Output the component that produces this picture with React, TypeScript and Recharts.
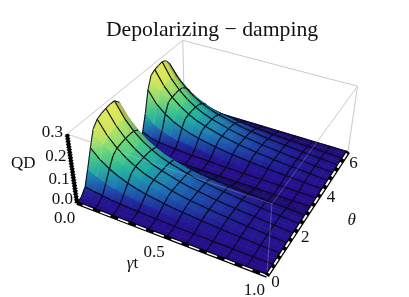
import React from 'react';
import { ScatterChart, Scatter, XAxis, YAxis } from 'recharts';

const WIDTH = 409;
const HEIGHT = 297;
const FONT = '"Liberation Serif", serif';

// gamma t samples (21), every second one carries a mesh line
const gammaT = [0, 0.05, 0.1, 0.15, 0.2, 0.25, 0.3, 0.35, 0.4, 0.45, 0.5, 0.55, 0.6, 0.65, 0.7, 0.75, 0.8, 0.85, 0.9, 0.95, 1];
// theta samples (29), every second one carries a mesh line
const theta = [0, 0.22, 0.45, 0.67, 0.9, 1.12, 1.35, 1.57, 1.8, 2.02, 2.24, 2.47, 2.69, 2.92, 3.14, 3.37, 3.59, 3.81, 4.04, 4.26, 4.49, 4.71, 4.94, 5.16, 5.39, 5.61, 5.83, 6.06, 6.28];

// QD x 1000, one row per theta, one column per gamma t
const qdThousandths = [
  [0, 0, 0, 0, 0, 0, 0, 0, 0, 0, 0, 0, 0, 0, 0, 0, 0, 0, 0, 0, 0],
  [8, 7, 5, 4, 3, 3, 2, 2, 2, 2, 1, 1, 1, 1, 1, 1, 1, 0, 0, 0, 0],
  [36, 28, 23, 18, 15, 12, 11, 9, 8, 7, 6, 5, 4, 4, 3, 3, 2, 2, 1, 1, 1],
  [101, 78, 63, 50, 41, 34, 29, 25, 21, 18, 15, 14, 12, 10, 9, 7, 6, 5, 4, 3, 2],
  [174, 135, 108, 87, 71, 59, 50, 43, 37, 31, 27, 24, 20, 17, 15, 12, 11, 9, 7, 5, 4],
  [238, 185, 148, 119, 98, 81, 69, 60, 50, 43, 37, 32, 27, 24, 20, 17, 14, 12, 9, 7, 5],
  [263, 205, 164, 132, 108, 89, 76, 66, 55, 47, 40, 36, 30, 26, 23, 19, 16, 13, 10, 8, 6],
  [272, 211, 169, 136, 112, 92, 79, 68, 57, 49, 42, 37, 31, 27, 23, 19, 16, 14, 11, 8, 6],
  [277, 216, 172, 139, 114, 94, 80, 69, 58, 50, 43, 38, 32, 28, 24, 20, 17, 14, 11, 8, 6],
  [280, 218, 174, 140, 115, 95, 81, 70, 59, 50, 43, 38, 32, 28, 24, 20, 17, 14, 11, 8, 6],
  [280, 217, 172, 139, 114, 94, 80, 69, 58, 49, 43, 37, 32, 28, 24, 20, 17, 14, 11, 8, 6],
  [258, 201, 160, 129, 106, 87, 75, 64, 54, 46, 40, 35, 29, 26, 22, 18, 16, 13, 10, 7, 6],
  [154, 120, 96, 77, 63, 52, 45, 39, 32, 28, 24, 21, 18, 15, 13, 11, 9, 8, 6, 4, 3],
  [50, 39, 31, 25, 21, 17, 15, 13, 11, 9, 8, 7, 6, 5, 4, 4, 3, 3, 2, 1, 1],
  [0, 0, 0, 0, 0, 0, 0, 0, 0, 0, 0, 0, 0, 0, 0, 0, 0, 0, 0, 0, 0],
  [11, 7, 5, 4, 3, 3, 2, 2, 2, 1, 1, 1, 1, 1, 1, 1, 0, 0, 0, 0, 0],
  [45, 28, 20, 15, 12, 10, 8, 7, 6, 5, 4, 4, 3, 3, 2, 2, 2, 1, 1, 1, 0],
  [118, 80, 60, 46, 37, 30, 25, 21, 18, 15, 13, 11, 9, 8, 7, 6, 5, 4, 3, 2, 2],
  [210, 155, 122, 97, 79, 65, 55, 47, 40, 34, 29, 25, 21, 18, 15, 13, 11, 9, 7, 5, 4],
  [260, 203, 162, 130, 107, 88, 75, 65, 55, 47, 40, 35, 30, 26, 22, 19, 16, 13, 10, 7, 6],
  [272, 212, 169, 136, 112, 92, 79, 68, 57, 49, 42, 37, 31, 27, 23, 19, 16, 14, 11, 8, 6],
  [277, 216, 172, 139, 114, 94, 80, 69, 58, 50, 43, 38, 32, 28, 24, 20, 17, 14, 11, 8, 6],
  [280, 218, 174, 140, 115, 95, 81, 70, 59, 50, 43, 38, 32, 28, 24, 20, 17, 14, 11, 8, 6],
  [272, 211, 169, 136, 112, 92, 79, 68, 57, 49, 42, 37, 31, 27, 23, 19, 16, 14, 11, 8, 6],
  [246, 192, 153, 123, 101, 84, 71, 62, 52, 44, 38, 33, 28, 25, 21, 18, 15, 12, 10, 7, 5],
  [204, 159, 127, 102, 84, 69, 59, 51, 43, 37, 31, 28, 23, 20, 18, 15, 12, 10, 8, 6, 4],
  [134, 105, 84, 67, 55, 46, 39, 34, 28, 24, 21, 18, 15, 13, 12, 10, 8, 7, 5, 4, 3],
  [56, 44, 35, 28, 23, 19, 16, 14, 12, 10, 9, 8, 6, 6, 5, 4, 3, 3, 2, 2, 1],
  [0, 0, 0, 0, 0, 0, 0, 0, 0, 0, 0, 0, 0, 0, 0, 0, 0, 0, 0, 0, 0],
];

const qdTicks = [0, 0.1, 0.2, 0.3];
const gammaTicks = [0, 0.5, 1];
const thetaTicks = [0, 2, 4, 6];

const THETA_MAX = 6.28;
const QD_MAX = 0.3;

// camera of the 3D box, fitted on the corners of the frame
const project = (g: number, t: number, q: number) => {
  const u = g;
  const v = t / THETA_MAX;
  const w = q / QD_MAX;
  const h = 1 - 0.1076 * u + 0.213 * v - 0.0705 * w;
  return {
    x: (77 + 161.2 * u + 146.5 * v - 14.7 * w) / h,
    y: (203 + 43.1 * u - 78.4 * v - 78.5 * w) / h,
    h,
  };
};

const palette: [number, number[]][] = [
  [0, [38, 14, 138]],
  [0.06, [34, 24, 146]],
  [0.13, [30, 66, 165]],
  [0.22, [28, 120, 182]],
  [0.37, [36, 178, 158]],
  [0.55, [96, 212, 126]],
  [0.75, [196, 228, 96]],
  [1, [236, 234, 88]],
];

const surfaceColor = (thousandths: number, shade: number) => {
  const t = Math.min(1, thousandths / 280);
  let k = 0;
  while (k < palette.length - 2 && t > palette[k + 1][0]) k++;
  const [t0, c0] = palette[k];
  const [t1, c1] = palette[k + 1];
  const f = (t - t0) / (t1 - t0);
  const rgb = c0.map((c, n) => Math.round((c + (c1[n] - c) * f) * shade));
  return `rgb(${rgb.join(',')})`;
};

const buildSurface = () => {
  const quads = [];
  for (let i = 0; i < theta.length - 1; i++) {
    for (let j = 0; j < gammaT.length - 1; j++) {
      const ids = [[i, j], [i, j + 1], [i + 1, j + 1], [i + 1, j]];
      const corners = ids.map(([a, b]) => project(gammaT[b], theta[a], qdThousandths[a][b] / 1000));
      const qs = ids.map(([a, b]) => qdThousandths[a][b]);
      const mean = (qs[0] + qs[1] + qs[2] + qs[3]) / 4;
      // faces turned away from the light, towards growing theta
      const drop = Math.max(0, (qs[0] + qs[1] - qs[2] - qs[3]) / 2);
      const shade = Math.max(0.5, 1 - drop * 0.008 - 0.25 * Math.min(1, drop / (mean + 3)));
      quads.push({
        corners,
        // colours at the middle of the four sides, blended by two gradients
        side: [(qs[0] + qs[1]) / 2, (qs[1] + qs[2]) / 2, (qs[2] + qs[3]) / 2, (qs[3] + qs[0]) / 2].map((q) => surfaceColor(q, shade)),
        fill: surfaceColor(mean, shade),
        depth: corners.reduce((s, c) => s + c.h, 0) / 4,
        // edges: 0 = row i, 1 = column j + 1, 2 = row i + 1, 3 = column j
        mesh: [i % 2 === 0, (j + 1) % 2 === 0, (i + 1) % 2 === 0, j % 2 === 0],
      });
    }
  }
  return quads.sort((a, b) => b.depth - a.depth);
};

const quads = buildSurface();
const surfacePoints = quads.flatMap((q) => q.corners.map((c) => ({ x: c.x, y: c.y })));

const mid = (a: any, b: any) => ({ x: (a.x + b.x) / 2, y: (a.y + b.y) / 2 });

const gradient = (id: string, a: any, b: any, from: string, to: string) => (
  <linearGradient id={id} gradientUnits="userSpaceOnUse" x1={a.x} y1={a.y} x2={b.x} y2={b.y}>
    <stop offset="0" stopColor={from} />
    <stop offset="1" stopColor={to} />
  </linearGradient>
);

const drawSurface = ({ points }: any) => (
  <g>
    {quads.map((q, n) => {
      const p = points.slice(n * 4, n * 4 + 4);
      if (p.length < 4) return null;
      const d = p.map((c: any) => `${c.x},${c.y}`).join(' ');
      const edges = q.mesh
        .map((on: boolean, e: number) => {
          const a = p[e];
          const b = p[(e + 1) % 4];
          return on ? `M${a.x},${a.y}L${b.x},${b.y}` : '';
        })
        .join('');
      return (
        <g key={n}>
          <defs>
            {gradient(`qt${n}`, mid(p[0], p[1]), mid(p[2], p[3]), q.side[0], q.side[2])}
            {gradient(`qg${n}`, mid(p[3], p[0]), mid(p[1], p[2]), q.side[3], q.side[1])}
          </defs>
          <polygon points={d} fill={`url(#qt${n})`} stroke={q.fill} strokeWidth={0.5} />
          <polygon points={d} fill={`url(#qg${n})`} fillOpacity={0.5} />
          {edges && <path d={edges} fill="none" stroke="#080818" strokeOpacity={0.9} strokeWidth={1.1} />}
        </g>
      );
    })}
  </g>
);

const edge = (a: number[], b: number[]) => [project(a[0], a[1], a[2]), project(b[0], b[1], b[2])].map((c) => ({ x: c.x, y: c.y }));

const O = [0, 0, 0];
const A = [1, 0, 0];
const B = [1, THETA_MAX, 0];
const C = [0, THETA_MAX, 0];
const O2 = [0, 0, QD_MAX];
const A2 = [1, 0, QD_MAX];
const B2 = [1, THETA_MAX, QD_MAX];
const C2 = [0, THETA_MAX, QD_MAX];

const backEdges = [edge(O2, C2), edge(C2, B2), edge(C2, C), edge(B2, B), edge(O2, A2), edge(A2, B2), edge(A2, A), edge(C, B)];
const frontEdges = [edge(O2, A2), edge(A2, B2), edge(A2, A)];

type Mark = { x: number; y: number; text: string; dx: number; dy: number; size?: number; anchor?: string; italic?: boolean };

const at = (p: number[]) => {
  const c = project(p[0], p[1], p[2]);
  return { x: c.x, y: c.y };
};

const marks: Mark[] = [
  { x: 212, y: 36, text: 'Depolarizing \u2212 damping', dx: 0, dy: 0, size: 21.7 },
  ...qdTicks.map((q) => ({ ...at([0, 0, q]), text: q.toFixed(1), dx: -4, dy: q === 0 ? 1 : 3, anchor: 'end' })),
  ...gammaTicks.map((g) => ({ ...at([g, 0, 0]), text: g.toFixed(1), dx: -12.5, dy: 19.5 })),
  ...thetaTicks.map((t) => ({ ...at([1, t, 0]), text: String(t), dx: 8.5, dy: 11.3 })),
  { ...at([0, 0, 0.15]), text: 'QD', dx: -49, dy: -2 },
  { ...at([0.5, 0, 0]), text: '\u03b3t', dx: -34, dy: 31 },
  { ...at([1, 3.14, 0]), text: '\u03b8', dx: 40, dy: 18, italic: true },
];

const drawMark = (props: any) => {
  const m: Mark = props.payload;
  if (m.text === '\u03b3t') {
    return (
      <text x={props.cx + m.dx} y={props.cy + m.dy} textAnchor="middle" fontFamily={FONT} fontSize={17} fill="#111">
        <tspan fontStyle="italic">{'\u03b3'}</tspan>t
      </text>
    );
  }
  return (
    <text
      x={props.cx + m.dx}
      y={props.cy + m.dy}
      textAnchor={m.anchor || 'middle'}
      fontFamily={FONT}
      fontSize={m.size || 17}
      fontStyle={m.italic ? 'italic' : 'normal'}
      fill="#111"
    >
      {m.text}
    </text>
  );
};

const noDot = () => <g />;

const App = () => (
  <div style={{ position: 'absolute', left: 0, top: 0, width: WIDTH, height: HEIGHT, filter: 'blur(0.35px)' }}>
    <ScatterChart width={WIDTH} height={HEIGHT} margin={{ top: 0, right: 0, bottom: 0, left: 0 }}>
      <XAxis type="number" dataKey="x" domain={[0, WIDTH]} hide />
      <YAxis type="number" dataKey="y" domain={[0, HEIGHT]} reversed hide />
      {backEdges.map((e, n) => (
        <Scatter key={`back${n}`} data={e} shape={noDot} line={{ stroke: '#c9c9c9', strokeWidth: 1 }} isAnimationActive={false} />
      ))}
      <Scatter data={surfacePoints} shape={noDot} line={drawSurface} isAnimationActive={false} />
      {frontEdges.map((e, n) => (
        <Scatter key={`front${n}`} data={e} shape={noDot} line={{ stroke: '#d8d8e8', strokeOpacity: 0.28, strokeWidth: 1 }} isAnimationActive={false} />
      ))}
      <Scatter data={edge(O, O2)} shape={noDot} line={{ stroke: '#000', strokeWidth: 3.5 }} isAnimationActive={false} />
      <Scatter data={edge(O, O2)} shape={noDot} line={{ stroke: '#000', strokeWidth: 5, strokeDasharray: '1.2 1.6' }} isAnimationActive={false} />
      <Scatter data={edge(O, A)} shape={noDot} line={{ stroke: '#000', strokeWidth: 4 }} isAnimationActive={false} />
      <Scatter data={edge(O, A)} shape={noDot} line={{ stroke: '#fff', strokeWidth: 1.5, strokeDasharray: '11 8', strokeDashoffset: -6 }} isAnimationActive={false} />
      <Scatter data={edge(A, B)} shape={noDot} line={{ stroke: '#000', strokeWidth: 4.5 }} isAnimationActive={false} />
      <Scatter data={edge(A, B)} shape={noDot} line={{ stroke: '#fff', strokeWidth: 2, strokeDasharray: '6.5 4', strokeDashoffset: -3 }} isAnimationActive={false} />
      <Scatter data={marks} shape={drawMark} isAnimationActive={false} />
    </ScatterChart>
  </div>
);

export default App;
